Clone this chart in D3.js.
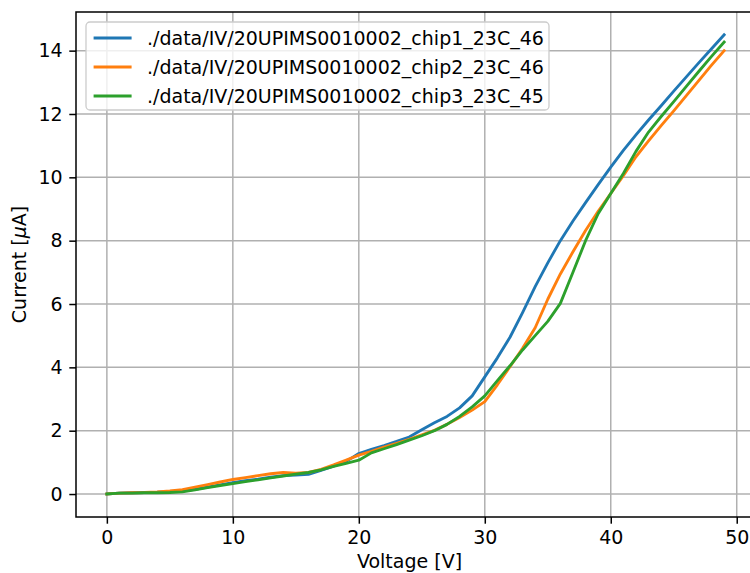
<!DOCTYPE html>
<html>
<head>
<meta charset="utf-8">
<script src="https://cdn.jsdelivr.net/npm/d3@7"></script>
<style>
  body { margin: 0; background: #fff; }
  svg { display: block; font-family: "DejaVu Sans", sans-serif; }
</style>
</head>
<body>
<div id="chart"></div>
<script>
// voltage steps (V)
var voltage = d3.range(0, 50);

// current in uA
var chip1 = [0.00, 0.03, 0.04, 0.05, 0.06, 0.08, 0.10, 0.15, 0.22, 0.29,
             0.36, 0.42, 0.47, 0.53, 0.58, 0.60, 0.62, 0.75, 0.88, 1.03,
             1.28, 1.41, 1.53, 1.66, 1.80, 2.03, 2.25, 2.45, 2.72, 3.10,
             3.70, 4.30, 4.95, 5.73, 6.55, 7.30, 8.00, 8.62, 9.20, 9.77,
             10.32, 10.85, 11.34, 11.81, 12.26, 12.72, 13.17, 13.62, 14.06, 14.50];
var chip2 = [0.00, 0.03, 0.04, 0.05, 0.07, 0.10, 0.14, 0.22, 0.30, 0.38,
             0.46, 0.52, 0.58, 0.64, 0.68, 0.66, 0.68, 0.78, 0.92, 1.07,
             1.23, 1.35, 1.48, 1.60, 1.73, 1.87, 2.01, 2.20, 2.42, 2.65,
             2.92, 3.45, 4.02, 4.60, 5.25, 6.15, 6.95, 7.65, 8.32, 8.93,
             9.49, 10.05, 10.65, 11.15, 11.63, 12.10, 12.58, 13.06, 13.54, 14.00];
var chip3 = [0.00, 0.03, 0.03, 0.04, 0.04, 0.05, 0.07, 0.13, 0.20, 0.27,
             0.33, 0.39, 0.45, 0.51, 0.57, 0.63, 0.68, 0.76, 0.87, 0.97,
             1.07, 1.30, 1.43, 1.56, 1.70, 1.84, 2.00, 2.20, 2.45, 2.75,
             3.10, 3.58, 4.05, 4.55, 5.00, 5.45, 6.02, 7.00, 8.00, 8.85,
             9.49, 10.12, 10.82, 11.43, 11.92, 12.39, 12.87, 13.35, 13.82, 14.27];

var labels = ["./data/IV/20UPIMS0010002_chip1_23C_46",
              "./data/IV/20UPIMS0010002_chip2_23C_46",
              "./data/IV/20UPIMS0010002_chip3_23C_45"];
var colors = ["#1f77b4", "#ff7f0e", "#2ca02c"];
var x_ticks = [0, 10, 20, 30, 40, 50];
var y_ticks = [0, 2, 4, 6, 8, 10, 12, 14];

var series = [chip1, chip2, chip3].map(function(vals, i) {
  return { label: labels[i], color: colors[i],
           points: vals.map(function(v, j) { return { v: voltage[j], i: v }; }) };
});

var svg_width = 750, svg_height = 573;
var margin = { top: 12, right: -5, bottom: 56, left: 76 };
var font_size = 19;

var svg = d3.select("#chart").append("svg")
  .attr("width", svg_width)
  .attr("height", svg_height);

var x_scale = d3.scaleLinear()
  .domain([-2.45, 51.45])
  .range([margin.left, svg_width - margin.right]);
var y_scale = d3.scaleLinear()
  .domain([-0.725, 15.22])
  .range([svg_height - margin.bottom, margin.top]);

var x0 = x_scale.range()[0], x1 = x_scale.range()[1];
var y0 = y_scale.range()[0], y1 = y_scale.range()[1];

// grid
svg.append("g").selectAll("line").data(x_ticks).enter().append("line")
  .attr("x1", function(d) { return x_scale(d); })
  .attr("x2", function(d) { return x_scale(d); })
  .attr("y1", y0).attr("y2", y1)
  .attr("stroke", "#b0b0b0").attr("stroke-width", 1.5);
svg.append("g").selectAll("line").data(y_ticks).enter().append("line")
  .attr("y1", function(d) { return y_scale(d); })
  .attr("y2", function(d) { return y_scale(d); })
  .attr("x1", x0).attr("x2", x1)
  .attr("stroke", "#b0b0b0").attr("stroke-width", 1.5);

// lines
var line = d3.line()
  .x(function(d) { return x_scale(d.v); })
  .y(function(d) { return y_scale(d.i); });

svg.append("g").selectAll("path").data(series).enter().append("path")
  .attr("d", function(d) { return line(d.points); })
  .attr("fill", "none")
  .attr("stroke", function(d) { return d.color; })
  .attr("stroke-width", 2.85)
  .attr("stroke-linejoin", "round")
  .attr("stroke-linecap", "square");

// axes
var x_axis = d3.axisBottom(x_scale).tickValues(x_ticks)
  .tickSize(6.7).tickPadding(6.7).tickSizeOuter(0);
var y_axis = d3.axisLeft(y_scale).tickValues(y_ticks)
  .tickSize(6.7).tickPadding(6.7).tickSizeOuter(0);

var gx = svg.append("g").attr("transform", "translate(0," + y0 + ")").call(x_axis);
var gy = svg.append("g").attr("transform", "translate(" + x0 + ",0)").call(y_axis);
[gx, gy].forEach(function(g) {
  g.select(".domain").remove();
  g.selectAll(".tick line").attr("stroke", "#000").attr("stroke-width", 1.5);
  g.selectAll(".tick text").attr("fill", "#000")
    .style("font-size", font_size + "px")
    .style("font-family", "DejaVu Sans");
});

// frame
svg.append("rect")
  .attr("x", x0).attr("y", y1)
  .attr("width", x1 - x0).attr("height", y0 - y1)
  .attr("fill", "none").attr("stroke", "#000").attr("stroke-width", 1.5);

// axis labels
svg.append("text")
  .attr("x", (x0 + 737) / 2 + 3).attr("y", 568)
  .attr("text-anchor", "middle")
  .style("font-size", font_size + "px")
  .text("Voltage [V]");

var ylab = svg.append("text")
  .attr("transform", "translate(26," + (y0 + y1) / 2 + ") rotate(-90)")
  .attr("text-anchor", "middle")
  .style("font-size", font_size + "px");
ylab.append("tspan").text("Current [");
ylab.append("tspan").style("font-style", "italic").text("\u03bc");
ylab.append("tspan").text("A]");

// legend
var legend = svg.append("g").attr("transform", "translate(86,22)");
legend.append("rect")
  .attr("width", 463).attr("height", 88)
  .attr("rx", 4).attr("ry", 4)
  .attr("fill", "#fff").attr("fill-opacity", 0.8)
  .attr("stroke", "#cccccc").attr("stroke-width", 1.3);

var entry = legend.selectAll("g.entry").data(series).enter().append("g")
  .attr("class", "entry")
  .attr("transform", function(d, i) { return "translate(0," + (16 + i * 29) + ")"; });
entry.append("line")
  .attr("x1", 7.6).attr("x2", 45.6)
  .attr("stroke", function(d) { return d.color; })
  .attr("stroke-width", 2.85);
entry.append("text")
  .attr("x", 61).attr("y", 7)
  .style("font-size", font_size + "px")
  .text(function(d) { return d.label; });
</script>
</body>
</html>
